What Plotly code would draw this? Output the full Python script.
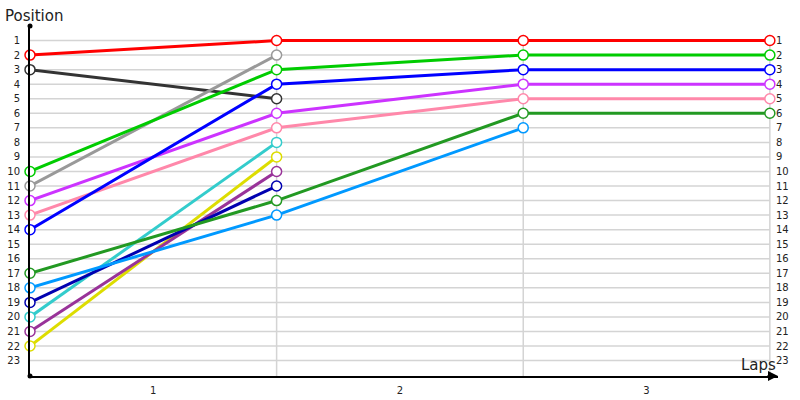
import plotly.graph_objects as go

# ---- data ----
laps = [0, 1, 2, 3]
positions = list(range(1, 24))
lap_tick_vals = [0.5, 1.5, 2.5]
lap_tick_text = ["1", "2", "3"]

red_driver = [2, 1, 1, 1]
darkgray_driver = [3, 5]
green_driver = [10, 3, 2, 2]
gray_driver = [11, 2]
violet_driver = [12, 6, 4, 4]
pink_driver = [13, 7, 5, 5]
blue_driver = [14, 4, 3, 3]
darkgreen_driver = [17, 12, 6, 6]
lightblue_driver = [18, 13, 7]
navy_driver = [19, 11]
cyan_driver = [20, 8]
purple_driver = [21, 10]
yellow_driver = [22, 9]

series = [
    (yellow_driver, "#dddd00"),
    (purple_driver, "#993399"),
    (cyan_driver, "#33cccc"),
    (navy_driver, "#0000b0"),
    (lightblue_driver, "#0099ff"),
    (darkgreen_driver, "#229922"),
    (pink_driver, "#ff88aa"),
    (violet_driver, "#cc33ff"),
    (darkgray_driver, "#333333"),
    (blue_driver, "#0000ff"),
    (gray_driver, "#999999"),
    (green_driver, "#00cc00"),
    (red_driver, "#ff0000"),
]

FONT = "DejaVu Sans"
TXT = "#222222"
GRID = "#d4d4d4"

PLOT_W = 748
PLOT_H = 350

fig = go.Figure()
for vals, color in series:
    fig.add_trace(go.Scatter(
        x=laps[:len(vals)], y=vals, mode="lines+markers",
        line=dict(color=color, width=3),
        marker=dict(size=10, color="white", line=dict(color=color, width=1.5)),
        showlegend=False, cliponaxis=False, hoverinfo="skip",
    ))

shapes = []
# horizontal grid lines (end at last lap)
for p in positions:
    shapes.append(dict(type="line", xref="x", yref="y", x0=laps[0], x1=laps[-1],
                       y0=p, y1=p, line=dict(color=GRID, width=1.5), layer="below"))
# vertical grid lines at laps
for lp in laps[1:]:
    shapes.append(dict(type="line", xref="x", yref="y", x0=lp, x1=lp,
                       y0=positions[0] - 0.4, y1=24.06, line=dict(color=GRID, width=1.5),
                       layer="below"))
# dots at axis ends
for (px, py) in [(0, 1), (0, 0)]:
    shapes.append(dict(type="circle", xref="paper", yref="paper",
                       x0=-2.5, x1=2.5, y0=-2.5, y1=2.5, xsizemode="pixel", ysizemode="pixel",
                       xanchor=px, yanchor=py,
                       fillcolor="black", line=dict(color="black", width=0)))

annotations = []
for p in positions:
    annotations.append(dict(x=laps[-1], y=p, xref="x", yref="y", text=str(p),
                            showarrow=False, xanchor="left", yanchor="middle", xshift=4,
                            font=dict(family=FONT, size=10, color=TXT)))
annotations.append(dict(x=-27 / PLOT_W, y=1 + 21 / PLOT_H, xref="paper", yref="paper",
                        text="Position", showarrow=False, xanchor="left", yanchor="top",
                        font=dict(family=FONT, size=15, color="#222222")))
annotations.append(dict(x=1, y=0, xref="paper", yref="paper", text="",
                        showarrow=True, ax=-12, ay=0, arrowhead=2, arrowsize=1,
                        arrowwidth=2, arrowcolor="black"))
annotations.append(dict(x=1, y=0, xref="paper", yref="paper", text="Laps",
                        showarrow=False, xanchor="right", yanchor="bottom", yshift=0, xshift=0,
                        font=dict(family=FONT, size=15, color="#222222")))

fig.update_layout(
    width=800, height=400,
    margin=dict(l=30, r=22, t=26, b=24, autoexpand=False),
    plot_bgcolor="white", paper_bgcolor="white",
    xaxis=dict(range=[0, 3.033], tickvals=lap_tick_vals, ticktext=lap_tick_text,
               showgrid=False, zeroline=False, showline=True, linecolor="black",
               linewidth=2, ticks="", ticklabelstandoff=4, automargin=False,
               tickfont=dict(family=FONT, size=10, color=TXT)),
    yaxis=dict(range=[24.06, 0], tickvals=positions, ticktext=[str(p) for p in positions],
               showgrid=False, zeroline=False, showline=True, linecolor="black",
               linewidth=2, ticks="", ticklabelstandoff=6, automargin=False,
               tickfont=dict(family=FONT, size=10, color=TXT)),
    shapes=shapes, annotations=annotations,
)

fig.write_html("out.html", config={"displayModeBar": False},
               post_script="document.body.style.margin='0';")
